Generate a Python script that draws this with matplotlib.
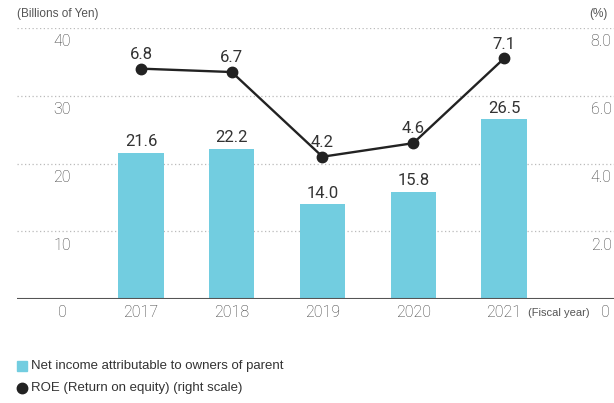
import matplotlib
matplotlib.use("Agg")
import matplotlib.pyplot as plt
from matplotlib.transforms import offset_copy

years = ["2017", "2018", "2019", "2020", "2021"]
net_income = [21.6, 22.2, 14.0, 15.8, 26.5]
roe = [6.8, 6.7, 4.2, 4.6, 7.1]
left_ticks = [0, 10, 20, 30, 40]
right_ticks = [0, 2.0, 4.0, 6.0, 8.0]
right_labels = ["0", "2.0", "4.0", "6.0", "8.0"]

W, H = 614, 403
bar_color = "#72CDE0"
line_color = "#222222"
tick_color = "#3a3a3a"
num_font = ["Roboto", "Liberation Sans", "DejaVu Sans"]
narrow_font = ["Liberation Sans", "DejaVu Sans"]

fig = plt.figure(figsize=(W / 100, H / 100), dpi=100)
ax = fig.add_axes([17 / W, (H - 299) / H, (614 - 17) / W, (299 - 28) / H])
x = list(range(len(years)))
ax.set_xlim(-1.366, 5.212)
ax.set_ylim(0, 40)
for s in ax.spines.values():
    s.set_visible(False)
ax.set_xticks([])
ax.set_yticks([])

# gridlines
for v in left_ticks[1:]:
    ax.axhline(v, color="#bbbbbb", lw=0.9, ls=(0, (1, 2)), zorder=0)
ax.axhline(0, color="#555555", lw=1.5, zorder=3)

ax.bar(x, net_income, width=0.5, color=bar_color, zorder=2)

ax2 = ax.twinx()
ax2.set_ylim(0, 8)
for s in ax2.spines.values():
    s.set_visible(False)
ax2.set_yticks([])
ax2.plot(x, roe, color=line_color, lw=1.7, marker="o", markersize=7.5, zorder=4)

# bar labels
for xi, v in zip(x, net_income):
    tr = offset_copy(ax.transData, fig=fig, x=0, y=2.5, units="points")
    ax.text(xi, v, f"{v:.1f}", transform=tr, ha="center", va="bottom",
            fontsize=12, color="#333333", family=num_font)
for xi, v in zip(x, roe):
    tr = offset_copy(ax2.transData, fig=fig, x=0, y=5, units="points")
    ax2.text(xi, v, f"{v:.1f}", transform=tr, ha="center", va="bottom",
             fontsize=12, color="#333333", family=num_font)

# y tick labels (below gridlines)
for v in left_ticks:
    tr = offset_copy(ax.transData, fig=fig, x=0, y=-10, units="points")
    ax.text(-0.87, v, str(v), transform=tr, ha="center", va="center",
            fontsize=11.5, color=tick_color, family=num_font, fontweight="light")
for v, lab in zip(right_ticks, right_labels):
    tr = offset_copy(ax2.transData, fig=fig, x=0, y=-10, units="points")
    ax2.text(5.07 if v else 5.12, v, lab, transform=tr, ha="center", va="center",
             fontsize=11.5, color=tick_color, family=num_font, fontweight="light")

# x tick labels
for xi, y in zip(x, years):
    tr = offset_copy(ax.transData, fig=fig, x=0, y=-10, units="points")
    ax.text(xi, 0, y, transform=tr, ha="center", va="center",
            fontsize=11.5, color=tick_color, family=num_font, fontweight="light")
tr = offset_copy(ax.transData, fig=fig, x=0, y=-10, units="points")
ax.text(4.6, 0, "(Fiscal year)", transform=tr, ha="center", va="center",
        fontsize=8, color="#555555", family=narrow_font)

# unit labels
fig.text(17 / W, 1 - 14 / H, "(Billions of Yen)", ha="left", va="center",
         fontsize=8.5, color="#555555", family=narrow_font)
fig.text(608 / W, 1 - 14 / H, "(%)", ha="right", va="center",
         fontsize=8.5, color="#555555", family=narrow_font)

# legend
fig.patches.append(plt.Rectangle((17 / W, 1 - 371 / H), 10 / W, 10 / H,
                                 transform=fig.transFigure, color=bar_color))
fig.text(31 / W, 1 - 366 / H, "Net income attributable to owners of parent",
         ha="left", va="center", fontsize=9.5, color="#333333", family=narrow_font)
fig.lines.append(plt.Line2D([22 / W], [1 - 388 / H], marker="o", markersize=7.5,
                            color=line_color, transform=fig.transFigure))
fig.text(31 / W, 1 - 388 / H, "ROE (Return on equity) (right scale)",
         ha="left", va="center", fontsize=9.5, color="#333333", family=narrow_font)

fig.savefig("out.png", dpi=100)
